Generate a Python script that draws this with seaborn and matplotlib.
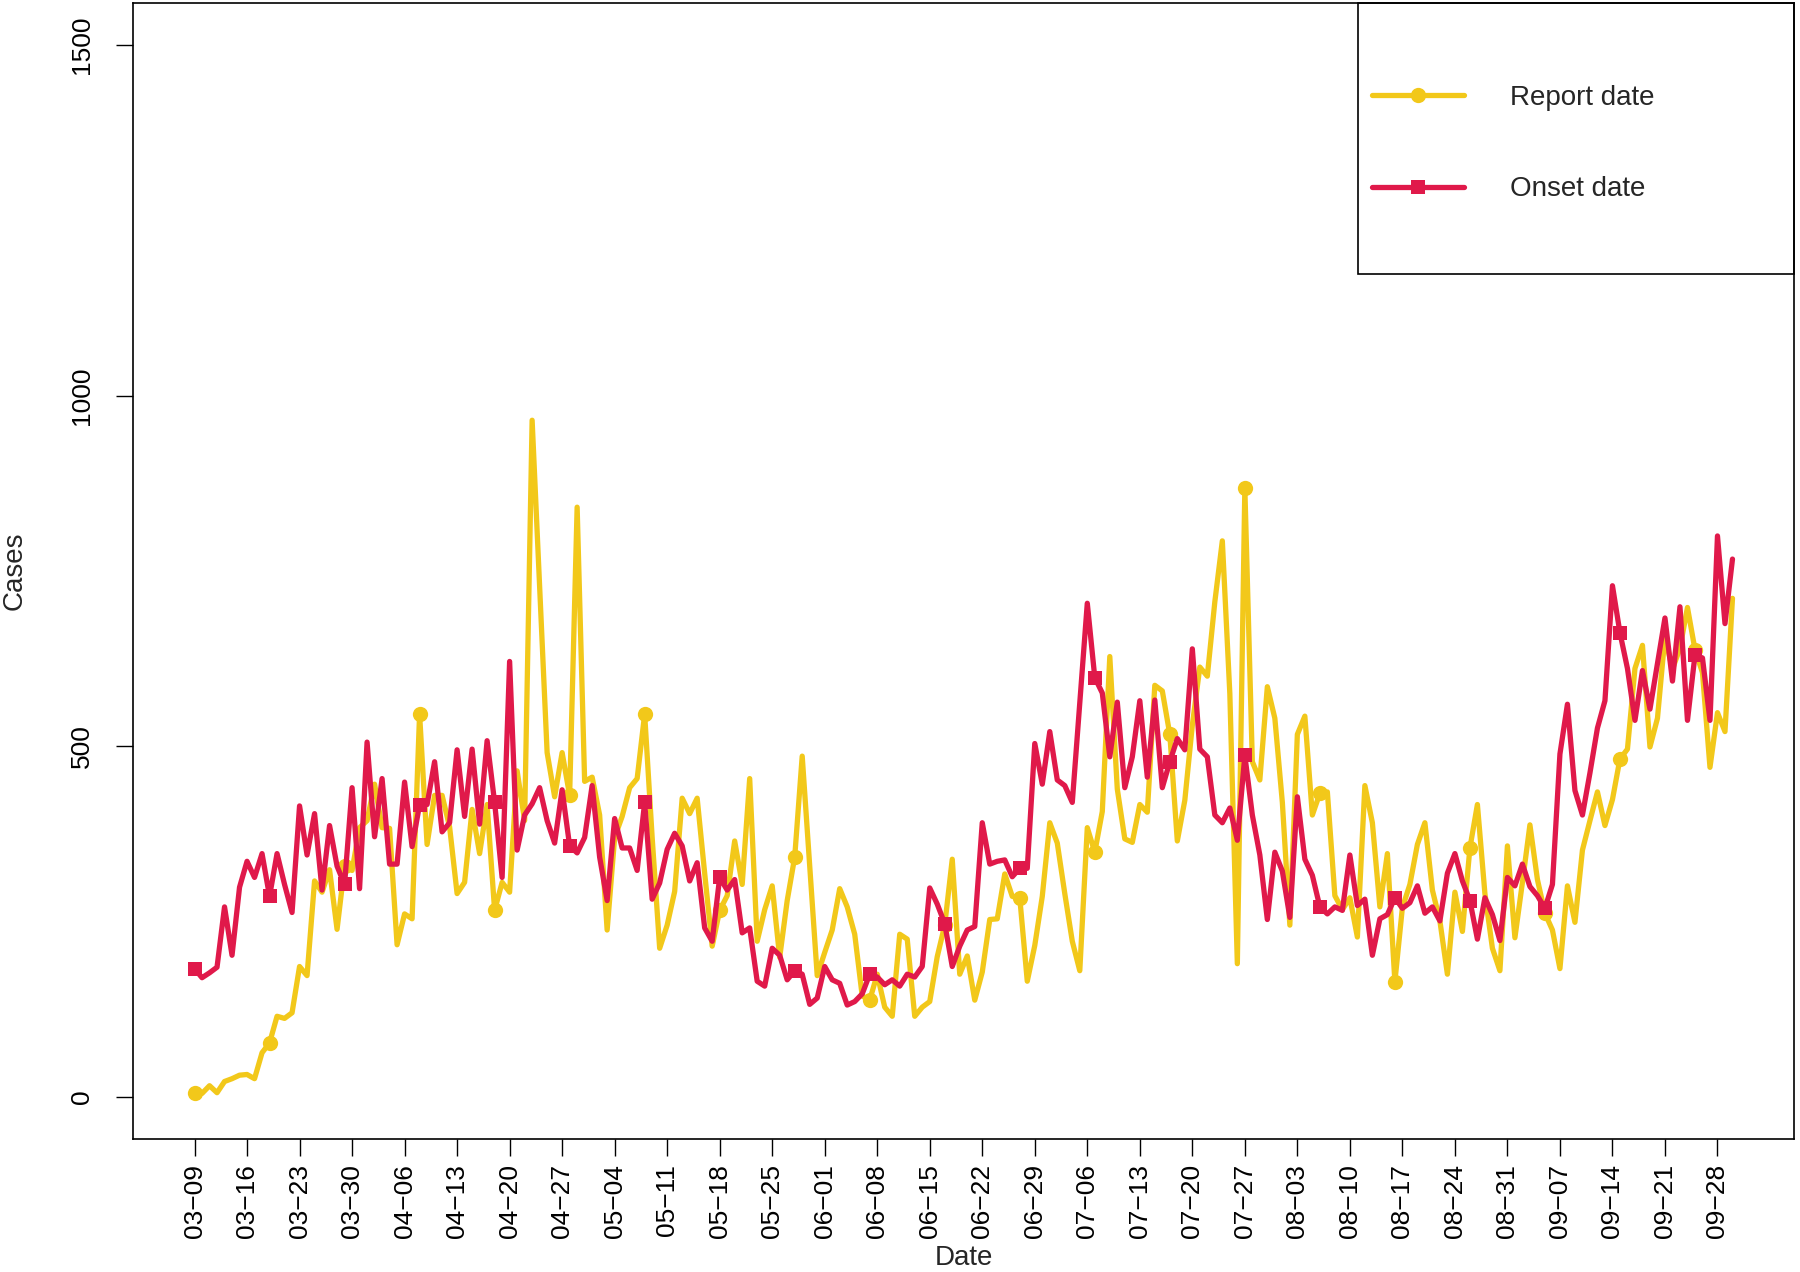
import matplotlib
matplotlib.use("Agg")
import matplotlib.pyplot as plt
from matplotlib.patches import Rectangle
import seaborn as sns
import pandas as pd
import numpy as np

# daily counts, starting 03-09
start_date = "2020-03-09"
report_cases = [
    5, 5, 16, 6, 22, 26, 31, 32, 26, 63,
    77, 115, 112, 120, 186, 173, 308, 292, 324, 239,
    329, 323, 384, 394, 446, 384, 383, 217, 261, 254,
    546, 360, 430, 430, 385, 290, 306, 410, 347, 417,
    266, 306, 292, 465, 394, 965, 728, 491, 428, 491,
    430, 841, 450, 456, 402, 238, 370, 400, 441, 454,
    546, 370, 212, 245, 293, 426, 404, 426, 319, 215,
    266, 287, 365, 303, 454, 222, 267, 301, 199, 280,
    342, 486, 330, 173, 206, 238, 297, 271, 232, 144,
    138, 175, 128, 115, 232, 225, 115, 128, 136, 200,
    245, 339, 175, 201, 138, 178, 253, 254, 318, 286,
    284, 165, 216, 286, 391, 362, 290, 222, 180, 384,
    349, 407, 628, 439, 368, 363, 417, 406, 587, 579,
    517, 365, 423, 530, 613, 600, 706, 793, 575, 190,
    868, 478, 452, 585, 540, 420, 245, 517, 543, 402,
    433, 435, 287, 267, 284, 228, 444, 391, 271, 347,
    164, 270, 303, 360, 391, 295, 251, 175, 292, 236,
    355, 417, 290, 212, 180, 358, 227, 306, 388, 310,
    262, 238, 183, 301, 249, 352, 394, 435, 387, 424,
    482, 496, 611, 644, 499, 540, 657, 610, 640, 698,
    638, 605, 470, 548, 521, 711,
]
onset_cases = [
    183, 170, 177, 185, 271, 202, 299, 336, 313, 347,
    286, 347, 303, 263, 415, 345, 404, 295, 387, 329,
    303, 441, 297, 506, 371, 454, 332, 332, 449, 357,
    417, 417, 478, 378, 391, 495, 400, 496, 389, 508,
    420, 313, 621, 352, 402, 418, 441, 394, 362, 438,
    358, 348, 370, 444, 342, 280, 397, 355, 355, 323,
    420, 282, 305, 353, 376, 358, 308, 334, 241, 222,
    313, 295, 310, 234, 241, 165, 158, 212, 202, 167,
    180, 175, 132, 141, 186, 167, 162, 131, 136, 147,
    175, 171, 160, 167, 158, 175, 171, 186, 298, 275,
    247, 186, 215, 238, 243, 391, 332, 336, 338, 314,
    326, 326, 504, 446, 521, 452, 444, 420, 563, 704,
    598, 576, 485, 563, 441, 485, 565, 456, 566, 441,
    478, 511, 495, 639, 496, 485, 402, 391, 412, 366,
    487, 402, 345, 253, 349, 322, 256, 428, 339, 316,
    271, 261, 271, 266, 345, 273, 282, 202, 254, 260,
    284, 269, 277, 301, 262, 271, 251, 319, 347, 308,
    280, 225, 284, 260, 223, 313, 301, 332, 300, 287,
    269, 303, 489, 560, 437, 402, 462, 526, 565, 729,
    662, 611, 537, 608, 553, 618, 683, 593, 699, 537,
    630, 626, 537, 800, 675, 767,
]
y_ticks = [0, 500, 1000, 1500]
legend_labels = ["Report date", "Onset date"]

sns.set_style("white")
plt.rcParams['font.family'] = ['Liberation Sans', 'DejaVu Sans']
plt.rcParams['font.size'] = 19

dates = pd.date_range(start_date, periods=len(report_cases), freq="D")
df = pd.DataFrame({
    "day": np.arange(len(dates)),
    "report": report_cases,
    "onset": onset_cases,
})

yellow = "#F2C81A"
red = "#E0194A"

W, H = 1800, 1272
left, right, top, bottom = 133, 1794, 3, 1139
fig = plt.figure(figsize=(18, 12.72), dpi=100)
ax = fig.add_axes([left / W, 1 - bottom / H, (right - left) / W, (bottom - top) / H])

sns.lineplot(data=df, x="day", y="report", color=yellow, lw=3.8,
             marker="o", markersize=11, markevery=10, markeredgewidth=0,
             label=legend_labels[0], legend=False, ax=ax)
sns.lineplot(data=df, x="day", y="onset", color=red, lw=3.8,
             marker="s", markersize=9.5, markevery=10, markeredgewidth=0,
             label=legend_labels[1], legend=False, ax=ax)

n = len(dates)
pad_x = 0.04 * (n - 1)
ax.set_xlim(-pad_x, n - 1 + pad_x)
ax.set_ylim(-60, 1560)

tick_pos = np.arange(0, n, 7)
ax.set_xticks(tick_pos)
ax.set_xticklabels([d.strftime("%m-%d").replace("-", "\u2212") for d in dates[tick_pos]],
                   rotation=90)
ax.set_yticks(y_ticks)
ax.set_yticklabels([str(v) for v in y_ticks], rotation=90, va="center")

ax.tick_params(axis="both", direction="out", length=12, width=1.0, colors="black",
               labelsize=19, bottom=True, left=True)
ax.tick_params(axis="x", pad=6)
ax.tick_params(axis="y", pad=16)

for s in ax.spines.values():
    s.set_visible(True)
    s.set_color("black")
    s.set_linewidth(1.2)

ax.set_xlabel("Date", fontsize=20)
ax.set_ylabel("Cases", fontsize=20)
ax.xaxis.set_label_coords(0.5, (bottom - 1245) / (bottom - top))
ax.yaxis.set_label_coords((28 - left) / (right - left), 0.5)

# legend box like R's legend()
bx0 = (1358 - left) / (right - left)
by0 = (bottom - 274) / (bottom - top)
ax.add_patch(Rectangle((bx0, by0), 1 - bx0, 1 - by0, transform=ax.transAxes,
                       fill=False, edgecolor="black", lw=1.2, clip_on=False, zorder=5))
handles = ax.get_lines()[:2]
ax.legend(handles=handles, labels=legend_labels, loc="upper left",
          bbox_to_anchor=((1372 - left) / (right - left), (bottom - 85) / (bottom - top)),
          frameon=False, borderpad=0, borderaxespad=0, handlelength=3.3,
          handletextpad=1.65, labelspacing=2.35, fontsize=20)

fig.savefig("out.png", dpi=100)
plt.close(fig)
